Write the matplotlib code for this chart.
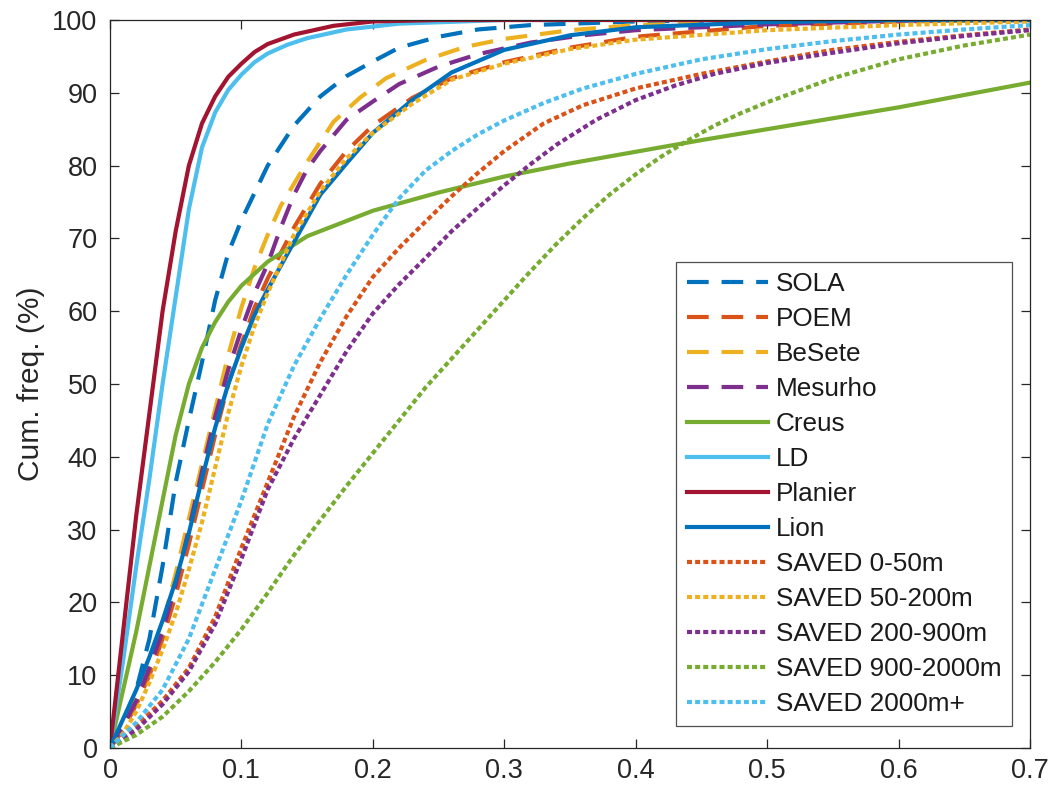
import matplotlib
matplotlib.use("Agg")
import matplotlib.pyplot as plt

plt.rcParams['font.family'] = ['Liberation Sans', 'DejaVu Sans']

# ---- data (x = value, y = cumulative frequency %) ----
sola_x = [0, 0.01, 0.02, 0.03, 0.04, 0.05, 0.06, 0.07, 0.08, 0.09, 0.1, 0.12, 0.14, 0.16, 0.18, 0.2, 0.22, 0.25, 0.28, 0.32, 0.4, 0.5, 0.7]
sola_y = [0, 3.5, 8, 15, 25, 36.5, 45, 53, 61.5, 68, 72.5, 80, 85.5, 89.5, 92.3, 94.3, 96.2, 97.7, 98.7, 99.3, 99.8, 100, 100]

poem_x = [0, 0.01, 0.02, 0.03, 0.04, 0.05, 0.06, 0.07, 0.08, 0.09, 0.1, 0.11, 0.12, 0.14, 0.16, 0.18, 0.2, 0.23, 0.26, 0.3, 0.35, 0.4, 0.5, 0.6, 0.7]
poem_y = [0, 2.5, 6, 10, 15, 21, 28, 35.5, 43, 50, 55.5, 60.5, 64.5, 71.5, 77.5, 82, 85.5, 89.3, 92, 94.2, 96.2, 97.7, 99.2, 99.8, 100]

besete_x = [0, 0.01, 0.02, 0.03, 0.04, 0.05, 0.06, 0.07, 0.08, 0.09, 0.1, 0.11, 0.12, 0.13, 0.15, 0.17, 0.19, 0.21, 0.24, 0.27, 0.3, 0.35, 0.4, 0.5, 0.7]
besete_y = [0, 3, 7, 11.5, 17, 24, 31.5, 39, 46.5, 54, 60.5, 66, 70.5, 74.5, 80.5, 86, 89.3, 92, 94.5, 96.3, 97.4, 98.6, 99.3, 99.8, 100]

mesurho_x = [0, 0.01, 0.02, 0.03, 0.04, 0.05, 0.06, 0.07, 0.08, 0.09, 0.1, 0.11, 0.12, 0.13, 0.14, 0.15, 0.16, 0.18, 0.2, 0.22, 0.25, 0.28, 0.32, 0.36, 0.4, 0.5, 0.6, 0.7]
mesurho_y = [0, 3, 6.5, 11, 16, 22.5, 30, 38, 45.5, 52, 57.5, 62.5, 66.5, 71.5, 76, 79.5, 82, 86.3, 88.8, 91.2, 93.6, 95.3, 96.9, 97.9, 98.6, 99.4, 99.9, 100]

creus_x = [0, 0.01, 0.02, 0.03, 0.04, 0.05, 0.06, 0.07, 0.08, 0.09, 0.1, 0.12, 0.15, 0.2, 0.25, 0.3, 0.35, 0.4, 0.45, 0.5, 0.6, 0.7]
creus_y = [0, 8, 16, 25, 34, 43, 50, 55, 58.5, 61.3, 63.5, 66.8, 70.3, 73.8, 76.3, 78.5, 80.3, 81.9, 83.5, 85, 88, 91.4]

ld_x = [0, 0.01, 0.02, 0.03, 0.04, 0.05, 0.06, 0.07, 0.08, 0.09, 0.1, 0.11, 0.12, 0.135, 0.15, 0.18, 0.22, 0.3, 0.7]
ld_y = [0, 12, 25, 37, 50, 62, 74, 82.5, 87.3, 90.4, 92.5, 94.2, 95.4, 96.6, 97.5, 98.7, 99.5, 100, 100]

planier_x = [0, 0.01, 0.02, 0.03, 0.04, 0.05, 0.06, 0.07, 0.08, 0.09, 0.1, 0.11, 0.12, 0.14, 0.17, 0.2, 0.25, 0.7]
planier_y = [0, 16, 32, 46, 60, 71, 80, 85.8, 89.5, 92.2, 94, 95.6, 96.7, 98, 99.2, 99.8, 100, 100]

lion_x = [0, 0.01, 0.02, 0.03, 0.04, 0.05, 0.06, 0.07, 0.08, 0.09, 0.1, 0.11, 0.12, 0.14, 0.16, 0.18, 0.2, 0.23, 0.26, 0.3, 0.35, 0.4, 0.5, 0.6, 0.7]
lion_y = [0, 4, 8, 12.5, 17.5, 23, 29.5, 37, 44, 50, 55, 59.5, 63, 69.5, 76, 80.3, 84.5, 89, 92.8, 95.9, 97.9, 99, 99.7, 100, 100]

s0_x = [0, 0.02, 0.04, 0.06, 0.08, 0.1, 0.12, 0.14, 0.16, 0.18, 0.2, 0.22, 0.24, 0.26, 0.28, 0.3, 0.33, 0.36, 0.4, 0.45, 0.5, 0.55, 0.6, 0.65, 0.7]
s0_y = [0, 3, 6.5, 11, 18, 27.5, 36.5, 45.5, 53, 59.3, 64.7, 68.7, 72.3, 75.8, 79, 82, 85.8, 88.3, 90.6, 92.6, 94.3, 95.9, 97, 97.9, 98.7]

s50_x = [0, 0.01, 0.02, 0.03, 0.04, 0.05, 0.06, 0.07, 0.08, 0.09, 0.1, 0.11, 0.12, 0.13, 0.14, 0.16, 0.18, 0.2, 0.23, 0.26, 0.3, 0.35, 0.4, 0.5, 0.6, 0.7]
s50_y = [0, 2, 5, 9, 13.5, 18.5, 24.5, 31, 38.5, 46, 52.5, 58, 62.5, 66.5, 70.5, 76.5, 81, 84.5, 88.5, 91.8, 94, 96, 97.3, 98.6, 99.3, 99.8]

s200_x = [0, 0.02, 0.04, 0.06, 0.08, 0.1, 0.12, 0.14, 0.16, 0.18, 0.2, 0.22, 0.24, 0.26, 0.28, 0.3, 0.32, 0.34, 0.37, 0.4, 0.43, 0.46, 0.5, 0.55, 0.6, 0.65, 0.7]
s200_y = [0, 2.5, 6, 10.5, 17, 26, 35.5, 42.5, 48.5, 54.5, 59.7, 63.7, 67.3, 71, 74.2, 77.3, 80.2, 82.9, 86.3, 89, 91, 92.6, 94.1, 95.5, 96.8, 97.8, 98.6]

s900_x = [0, 0.02, 0.04, 0.06, 0.08, 0.1, 0.12, 0.14, 0.16, 0.18, 0.2, 0.22, 0.24, 0.26, 0.28, 0.3, 0.32, 0.34, 0.36, 0.38, 0.4, 0.42, 0.44, 0.46, 0.48, 0.5, 0.55, 0.6, 0.65, 0.7]
s900_y = [0, 1.8, 4.3, 7.8, 11.8, 16.3, 21.3, 26.5, 31.3, 36, 40.5, 45, 49.5, 53.5, 57.5, 61.5, 65.5, 69.3, 72.8, 76, 78.8, 81.3, 83.5, 85.5, 87.2, 88.7, 92, 94.6, 96.5, 98]

s2000_x = [0, 0.02, 0.04, 0.06, 0.08, 0.1, 0.12, 0.14, 0.16, 0.18, 0.2, 0.22, 0.24, 0.26, 0.28, 0.3, 0.33, 0.36, 0.4, 0.45, 0.5, 0.55, 0.6, 0.65, 0.7]
s2000_y = [0, 3.5, 8, 15, 24.5, 34, 44.5, 52.5, 59, 65, 70.5, 75.5, 79.3, 82, 84.3, 86.2, 88.6, 90.6, 92.6, 94.6, 96, 97.1, 98, 98.7, 99.3]

labels = ['SOLA', 'POEM', 'BeSete', 'Mesurho', 'Creus', 'LD', 'Planier', 'Lion',
          'SAVED 0-50m', 'SAVED 50-200m', 'SAVED 200-900m', 'SAVED 900-2000m', 'SAVED 2000m+']
xticks = [0, 0.1, 0.2, 0.3, 0.4, 0.5, 0.6, 0.7]
xticklabels = ['0', '0.1', '0.2', '0.3', '0.4', '0.5', '0.6', '0.7']
yticks = [0, 10, 20, 30, 40, 50, 60, 70, 80, 90, 100]

series = [(sola_x, sola_y), (poem_x, poem_y), (besete_x, besete_y), (mesurho_x, mesurho_y),
          (creus_x, creus_y), (ld_x, ld_y), (planier_x, planier_y), (lion_x, lion_y),
          (s0_x, s0_y), (s50_x, s50_y), (s200_x, s200_y), (s900_x, s900_y), (s2000_x, s2000_y)]

colors = ['#0072BD', '#D95319', '#EDB120', '#7E2F8E', '#77AC30', '#4DBEEE', '#A2142F', '#0072BD',
          '#D95319', '#EDB120', '#7E2F8E', '#77AC30', '#4DBEEE']
dash = (5.2, 3.1)
dot = (1.2, 0.75)
styles = [dash, dash, dash, dash, None, None, None, None, dot, dot, dot, dot, dot]

fig = plt.figure(figsize=(10.54, 7.91), dpi=100)
ax = fig.add_axes([110/1054, 1 - 748/791, 920/1054, 728/791])

for (x, y), lab, c, st in zip(series, labels, colors, styles):
    if st is None:
        ax.plot(x, y, color=c, lw=3, label=lab, solid_joinstyle='round')
    else:
        ax.plot(x, y, color=c, lw=3, label=lab, linestyle=(0, st), dash_capstyle='butt')

ax.set_xlim(0, 0.7)
ax.set_ylim(0, 100)
ax.set_xticks(xticks)
ax.set_xticklabels(xticklabels)
ax.set_yticks(yticks)
ax.tick_params(direction='in', length=6.5, width=0.9, top=True, right=True,
               labelsize=19.5, colors='#262626')
ax.tick_params(axis='y', pad=9)
ax.tick_params(axis='x', pad=7)
for s in ax.spines.values():
    s.set_color('#262626')
    s.set_linewidth(0.9)
ax.set_ylabel('Cum. freq. (%)', fontsize=21.5, color='#262626', labelpad=5)

leg = ax.legend(loc='lower right', bbox_to_anchor=(0.98, 0.03), borderaxespad=0,
                fontsize=18.8, frameon=True, fancybox=False, edgecolor='#262626',
                handlelength=3.1, handletextpad=0.3, labelspacing=0.42,
                borderpad=0.4)
leg.get_frame().set_linewidth(0.9)
for t in leg.get_texts():
    t.set_color('#1a1a1a')

fig.savefig('out.png', dpi=100, facecolor='white')
